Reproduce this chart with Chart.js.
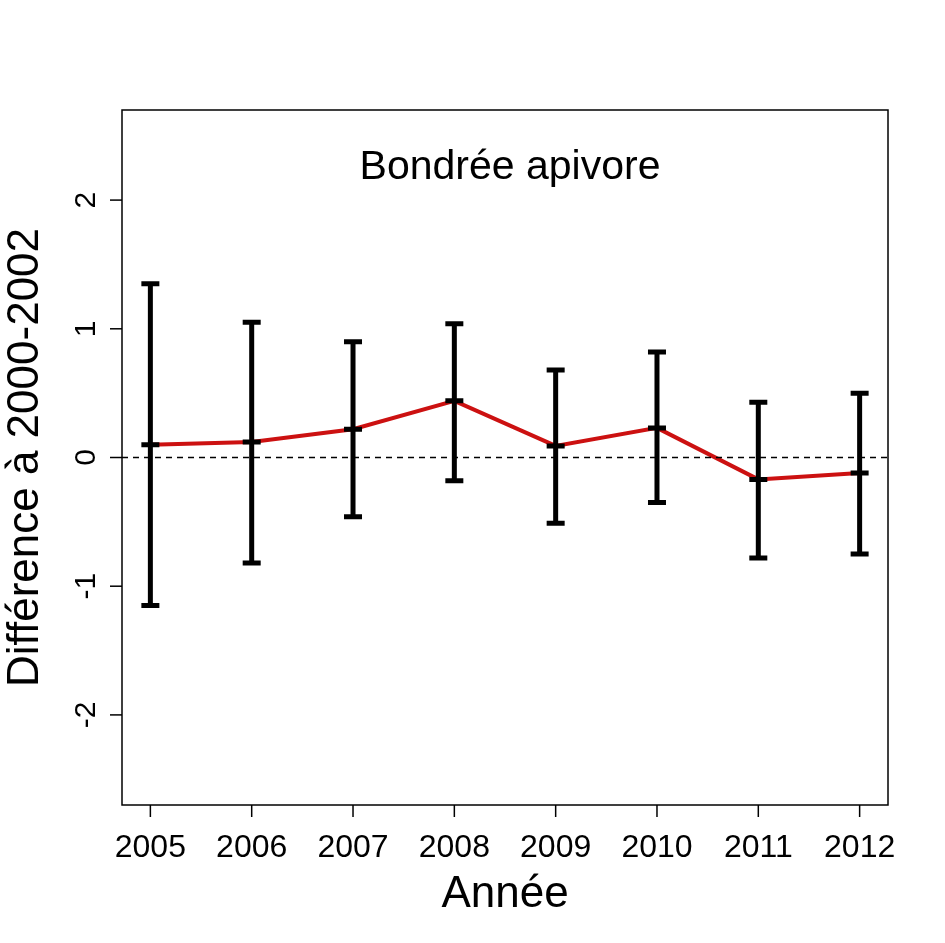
<!DOCTYPE html>
<html>
<head>
<meta charset="utf-8">
<script src="https://cdn.jsdelivr.net/npm/chart.js@4/dist/chart.umd.min.js"></script>
<style>
  html, body { margin: 0; padding: 0; background: #fff; }
  #wrap { width: 945px; height: 943px; }
</style>
</head>
<body>
<div id="wrap"><canvas id="graf"></canvas></div>
<script>
// Données
const annees = [2005, 2006, 2007, 2008, 2009, 2010, 2011, 2012];
const moyennes = [0.10, 0.12, 0.22, 0.44, 0.09, 0.23, -0.17, -0.12];
const hauts = [1.35, 1.05, 0.90, 1.04, 0.68, 0.82, 0.43, 0.50];
const bas = [-1.15, -0.82, -0.46, -0.18, -0.51, -0.35, -0.78, -0.75];
const ticksY = [-2, -1, 0, 1, 2];

const police = '"Liberation Sans", Arial, sans-serif';

// Dessine barres d'erreur, cadre, graduations et textes
const decor = {
  id: 'decor',
  afterDatasetsDraw(chart) {
    const { ctx, chartArea: a, scales: { x, y } } = chart;
    ctx.save();
    ctx.strokeStyle = '#000';
    // barres d'erreur
    ctx.lineWidth = 5;
    annees.forEach((an, i) => {
      const px = x.getPixelForValue(an);
      const yh = y.getPixelForValue(hauts[i]);
      const yb = y.getPixelForValue(bas[i]);
      const ym = y.getPixelForValue(moyennes[i]);
      ctx.beginPath();
      ctx.moveTo(px, yh); ctx.lineTo(px, yb);
      [yh, yb, ym].forEach(v => { ctx.moveTo(px - 9, v); ctx.lineTo(px + 9, v); });
      ctx.stroke();
    });
    // cadre
    ctx.lineWidth = 1.5;
    ctx.strokeRect(a.left, a.top, a.right - a.left, a.bottom - a.top);
    // graduations x
    ctx.fillStyle = '#000';
    ctx.font = '32px ' + police;
    ctx.textAlign = 'center';
    ctx.textBaseline = 'middle';
    annees.forEach(an => {
      const px = x.getPixelForValue(an);
      ctx.beginPath(); ctx.moveTo(px, a.bottom); ctx.lineTo(px, a.bottom + 12); ctx.stroke();
      ctx.fillText(String(an), px, a.bottom + 43);
    });
    // graduations y (étiquettes verticales)
    ctx.font = '30px ' + police;
    ticksY.forEach(v => {
      const py = y.getPixelForValue(v);
      ctx.beginPath(); ctx.moveTo(a.left, py); ctx.lineTo(a.left - 12, py); ctx.stroke();
      ctx.save();
      ctx.translate(a.left - 35, py);
      ctx.rotate(-Math.PI / 2);
      ctx.fillText(String(v), 0, 0);
      ctx.restore();
    });
    // titres
    ctx.font = '41px ' + police;
    ctx.fillText('Bondrée apivore', (a.left + a.right) / 2 + 5, 168);
    ctx.font = '44px ' + police;
    ctx.fillText('Année', (a.left + a.right) / 2, 895);
    ctx.save();
    ctx.translate(26, (a.top + a.bottom) / 2);
    ctx.rotate(-Math.PI / 2);
    ctx.fillText('Différence à 2000-2002', 0, 0);
    ctx.restore();
    ctx.restore();
  }
};

new Chart(document.getElementById('graf'), {
  type: 'line',
  data: {
    datasets: [
      {
        data: [{ x: 2004.72, y: 0 }, { x: 2012.28, y: 0 }],
        borderColor: '#000',
        borderWidth: 1.3,
        borderDash: [6, 5],
        pointRadius: 0
      },
      {
        data: annees.map((an, i) => ({ x: an, y: moyennes[i] })),
        borderColor: '#cc1111',
        borderWidth: 4,
        pointRadius: 0,
        tension: 0
      }
    ]
  },
  options: {
    responsive: true,
    maintainAspectRatio: false,
    animation: false,
    layout: { padding: { left: 0, top: 110, right: 57, bottom: 0 } },
    plugins: { legend: { display: false }, tooltip: { enabled: false } },
    scales: {
      x: {
        type: 'linear', min: 2004.72, max: 2012.28,
        grid: { display: false }, border: { display: false },
        ticks: { display: false },
        afterFit: s => { s.height = 138; }
      },
      y: {
        min: -2.7, max: 2.7,
        grid: { display: false }, border: { display: false },
        ticks: { display: false },
        afterFit: s => { s.width = 122; }
      }
    }
  },
  plugins: [decor]
});
</script>
</body>
</html>
